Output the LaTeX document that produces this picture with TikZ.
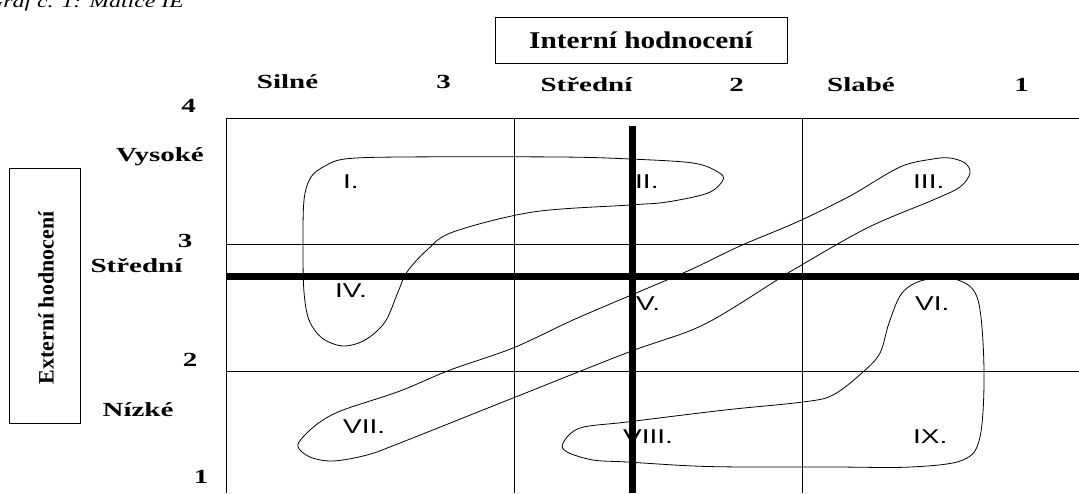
\documentclass[tikz,border=0pt]{standalone}
\usepackage{fontspec}
\setmainfont{Liberation Serif}
\newfontfamily\ieaxisfont[FakeStretch=1.45]{Liberation Serif}
\newfontfamily\ieboxfont[FakeStretch=1.22]{Liberation Serif}
\newfontfamily\iezonefont[FakeStretch=1.4]{Liberation Sans}
\newfontfamily\ietitlefont[FakeStretch=1.4]{Liberation Serif}
\tikzset{
  ielabel/.style={
    font=\ieaxisfont\bfseries\fontsize{20}{24}\selectfont,
    inner sep=0pt,
    anchor=base
  },
  iezone/.style={
    font=\iezonefont\fontsize{20}{24}\selectfont,
    inner sep=0pt,
    anchor=base west
  },
  iebox/.style={draw,line width=1pt,inner sep=0pt},
  iegrid/.style={line width=1pt},
  iesplit/.style={line width=7pt},
  ieloop/.style={line width=0.8pt}
}

\begin{document}
\begin{tikzpicture}[x=1pt,y=-1pt]
  \useasboundingbox (0,0) rectangle (1079,493);
  % caption, cut at the top edge
  \node[inner sep=0pt,anchor=base west,font=\ietitlefont\itshape\fontsize{17}{20}\selectfont]
    (caption) at (-14,7) {Graf č. 1: Matice IE};

  % axis boxes
  \node[iebox,minimum width=292pt,minimum height=46pt,
        font=\ieboxfont\bfseries\fontsize{24}{28}\selectfont] (intbox) at (641,40)
    {Interní hodnocení};
  \node[iebox,minimum width=71pt,minimum height=255pt] (extbox) at (44.5,295.5) {};
  \node[rotate=90,inner sep=0pt,font=\bfseries\fontsize{22}{26}\selectfont]
    (exttext) at (46,298) {Externí hodnocení};

  % grid
  \draw[iegrid] (1079,118) -- (226,118) -- (226,493);
  \draw[iegrid] (226,244) -- (1079,244);
  \draw[iegrid] (226,371) -- (1079,371);
  \draw[iegrid] (514,118) -- (514,493);
  \draw[iegrid] (802,118) -- (802,493);

  % column labels
  \node[ielabel] (silne) at (287.5,88) {Silné};
  \node[ielabel] (col3) at (443.5,88) {3};
  \node[ielabel] (stredni) at (586.5,91) {Střední};
  \node[ielabel] (col2) at (736.5,91) {2};
  \node[ielabel] (slabe) at (861,91) {Slabé};
  \node[ielabel] (col1) at (1021.5,91) {1};

  % row labels
  \node[ielabel] (row4) at (188.5,112) {4};
  \node[ielabel] (vysoke) at (160,161) {Vysoké};
  \node[ielabel] (row3) at (185,247) {3};
  \node[ielabel] (rstredni) at (136.5,272) {Střední};
  \node[ielabel] (row2) at (190,366) {2};
  \node[ielabel] (nizke) at (138,416) {Nízké};
  \node[ielabel] (row1) at (201,483) {1};

  % zone loops
  \draw[ieloop] plot[smooth cycle,tension=0.55] coordinates {
    (303,250) (304,200) (311,177) (325,166) (345,159) (400,157) (560,157)
    (630,159) (693,163) (718,172) (723,180) (708,193) (667,202) (630,205)
    (533,212) (453,232) (427,250) (407,272) (398,292) (385,322) (365,340)
    (343,346) (322,338) (309,320) (304,292)};
  \draw[ieloop] plot[smooth cycle,tension=0.55] coordinates {
    (298,447) (303,437) (320,422) (343,410) (400,391) (450,370) (513,348)
    (573,320) (629,296) (690,270) (740,246) (797,222) (850,196) (900,167)
    (933,159) (950,158) (965,163) (970,173) (960,187) (933,200) (867,228)
    (793,270) (777,280) (703,325) (629,352) (513,398) (400,443) (367,455)
    (333,461) (310,457)};
  \draw[ieloop] plot[smooth cycle,tension=0.55] coordinates {
    (924,280) (958,280) (978,300) (984,370) (980,437) (963,460) (911,467)
    (833,467) (746,467) (693,466) (627,462) (593,460) (567,452) (563,443)
    (580,428) (627,422) (725,410) (803,402) (833,395) (863,372) (880,353)
    (889,323) (902,293)};

  % zone numbers
  \node[iezone] (z1) at (343,188) {I.};
  \node[iezone] (z2) at (635,188) {II.};
  \node[iezone] (z3) at (913,188) {III.};
  \node[iezone] (z4) at (335,297) {IV.};
  \node[iezone] (z5) at (636,310) {V.};
  \node[iezone] (z6) at (915,310) {VI.};
  \node[iezone] (z7) at (343,433) {VII.};
  \node[iezone] (z8) at (623,443) {VIII.};
  \node[iezone] (z9) at (913,443) {IX.};

  % dividing lines
  \draw[iesplit] (226,276) -- (1079,276);
  \draw[iesplit] (632,126) -- (632,493);
\end{tikzpicture}
\end{document}
